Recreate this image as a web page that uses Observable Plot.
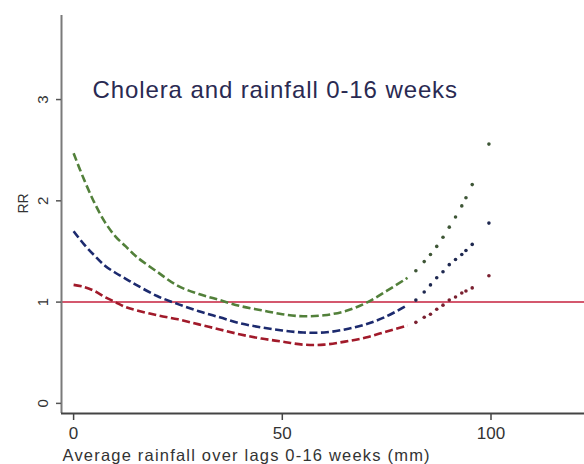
<!DOCTYPE html>
<html>
<head>
<meta charset="utf-8">
<script src="https://cdn.jsdelivr.net/npm/d3@7"></script>
<script src="https://cdn.jsdelivr.net/npm/@observablehq/plot@0.6"></script>
<style>
  html, body { margin: 0; padding: 0; background: #fff; }
  #chart { width: 584px; height: 464px; overflow: hidden; }
</style>
</head>
<body>
<div id="chart"></div>
<script>
// Rainfall (mm) where the estimated curves are dense (drawn as dashed trace)
const rain = [0, 2.5, 5, 7.5, 10, 12.5, 15, 20, 25, 30, 35, 40, 45, 50, 55, 60, 65, 70, 75, 80];
const upperRR = [2.47, 2.21, 1.98, 1.79, 1.65, 1.55, 1.45, 1.30, 1.16, 1.08, 1.02, 0.96, 0.92, 0.88, 0.86, 0.87, 0.91, 0.99, 1.11, 1.24];
const estRR   = [1.70, 1.57, 1.46, 1.36, 1.29, 1.23, 1.17, 1.06, 0.98, 0.91, 0.85, 0.79, 0.75, 0.72, 0.70, 0.70, 0.73, 0.78, 0.86, 0.97];
const lowerRR = [1.17, 1.15, 1.11, 1.05, 1.00, 0.95, 0.92, 0.87, 0.83, 0.78, 0.73, 0.68, 0.64, 0.61, 0.58, 0.58, 0.61, 0.65, 0.71, 0.77];

// Sparse observations at high rainfall (drawn as separate points)
const rainTail = [82, 84, 85.5, 87, 88.5, 90, 91.5, 93, 94, 95.5, 99.5];
const upperTail = [1.31, 1.40, 1.47, 1.55, 1.64, 1.74, 1.84, 1.95, 2.03, 2.16, 2.56];
const estTail   = [1.02, 1.10, 1.17, 1.24, 1.30, 1.37, 1.42, 1.47, 1.51, 1.57, 1.78];
const lowerTail = [0.80, 0.85, 0.88, 0.93, 0.97, 1.02, 1.05, 1.09, 1.11, 1.14, 1.26];

const xTicks = [0, 50, 100];
const yTicks = [0, 1, 2, 3];
const refRR = 1;
const titleText = "Cholera and rainfall 0-16 weeks";
const xLabel = "Average rainfall over lags 0-16 weeks (mm)";
const yLabel = "RR";

const series = [
  {name: "upper", vals: upperRR, tail: upperTail, color: "#52803a", dot: "#3e5636"},
  {name: "estimate", vals: estRR, tail: estTail, color: "#1c2a6e", dot: "#1e2850"},
  {name: "lower", vals: lowerRR, tail: lowerTail, color: "#a11a2a", dot: "#7a2030"}
];

const dense = series.flatMap(s => rain.map((r, i) => ({x: r, y: s.vals[i], s: s.name, c: s.color})));
const sparse = series.flatMap(s => rainTail.map((r, i) => ({x: r, y: s.tail[i], s: s.name, c: s.dot})));

const xMin = -2.9, xMax = 122.4, yMin = -0.1, yMax = 3.83;

const plot = Plot.plot({
  width: 584,
  height: 464,
  marginLeft: 61,
  marginRight: 0,
  marginTop: 15,
  marginBottom: 51,
  style: {fontFamily: "'Liberation Sans', Arial, sans-serif", background: "#fff", color: "#333"},
  x: {domain: [xMin, xMax]},
  y: {domain: [yMin, yMax]},
  marks: [
    Plot.ruleY([refRR], {stroke: "#d4586e", strokeWidth: 2}),
    Plot.line(dense, {x: "x", y: "y", z: "s", stroke: "c", strokeWidth: 2.6, strokeDasharray: "8,3.5", strokeLinecap: "butt", curve: "catmull-rom"}),
    Plot.dot(sparse, {x: "x", y: "y", fill: "c", r: 1.8, stroke: null}),
    Plot.ruleX([xMin], {stroke: "#7a7a7a", strokeWidth: 2}),
    Plot.ruleY([yMin], {stroke: "#444", strokeWidth: 2, x1: xMin, x2: xMax}),
    Plot.axisX({ticks: xTicks, tickSize: 7, tickPadding: 6, fontSize: 17, stroke: "#444", strokeWidth: 1.5, label: null, fill: "#333", tickFormat: "d"}),
    Plot.axisY({ticks: yTicks, tickSize: 5, tickPadding: 9, tickRotate: -90, fontSize: 15, stroke: "#555", strokeWidth: 1.5, label: null, fill: "#333", tickFormat: "d"}),
    Plot.text([xLabel], {frameAnchor: "bottom-left", dx: 1, dy: 42, lineAnchor: "middle", text: d => d, fontSize: 16.5, fill: "#333", textAnchor: "start"}),
    Plot.text([yLabel], {frameAnchor: "left", dx: -38, dy: -11, rotate: -90, textAnchor: "middle", lineAnchor: "middle", text: d => d, fontSize: 14, fill: "#333"}),
    Plot.text([titleText], {frameAnchor: "top-left", dx: 31, dy: 75, lineAnchor: "middle", text: d => d, fontSize: 24, fill: "#2a2a52", textAnchor: "start"})
  ]
});
// letter spacing for the long texts
plot.querySelectorAll("text").forEach(t => {
  if (t.textContent === titleText) t.setAttribute("letter-spacing", "0.9");
  if (t.textContent === xLabel) t.setAttribute("letter-spacing", "1.2");
});
document.getElementById("chart").appendChild(plot);
</script>
</body>
</html>
